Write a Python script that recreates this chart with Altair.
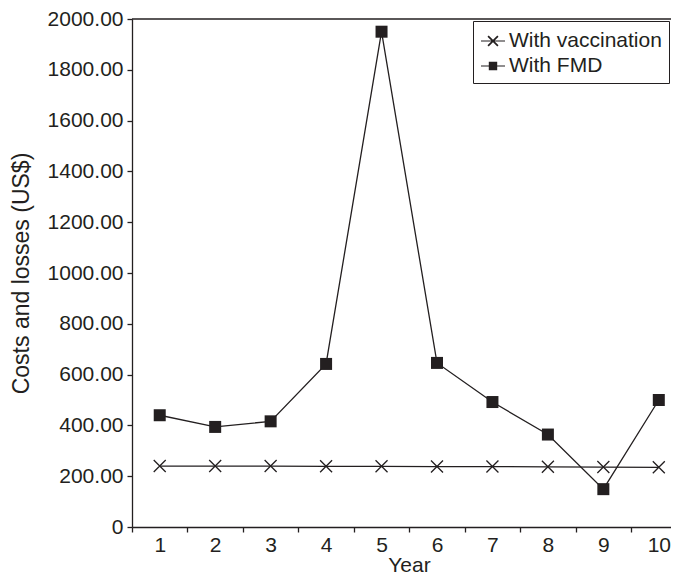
import altair as alt
import pandas as pd

# ---- data ----
years = [1, 2, 3, 4, 5, 6, 7, 8, 9, 10]
vaccination = [240, 240, 240, 239, 239, 238, 238, 237, 236, 235]
fmd = [440, 394, 416, 642, 1950, 646, 492, 364, 149, 500]
series_names = ["With vaccination", "With FMD"]
y_ticks = [0, 200, 400, 600, 800, 1000, 1200, 1400, 1600, 1800, 2000]
x_tick_values = [0.5, 1, 1.5, 2, 2.5, 3, 3.5, 4, 4.5, 5, 5.5, 6, 6.5, 7, 7.5,
                 8, 8.5, 9, 9.5, 10]

df = pd.DataFrame({
    "year": years + years,
    "value": vaccination + fmd,
    "series": [series_names[0]] * len(years) + [series_names[1]] * len(years),
})
top_df = pd.DataFrame({"value": [y_ticks[-1]]})

INK = "#231f20"
FONT = "Liberation Sans"
X_PATH = "M-1,-1L1,1M-1,1L1,-1"
# legend symbols drawn as filled outlines (line segment + marker)
LEG_X = ("M-1,-0.05L1,-0.05L1,0.05L-1,0.05Z"
         "M-0.36,-0.46L0.46,0.36L0.36,0.46L-0.46,-0.36Z"
         "M-0.36,0.46L-0.46,0.36L0.36,-0.46L0.46,-0.36Z")
LEG_SQ = ("M-1,-0.05L1,-0.05L1,0.05L-1,0.05Z"
          "M-0.35,-0.35L0.35,-0.35L0.35,0.35L-0.35,0.35Z")

x_scale = alt.Scale(domain=[0.5, 10.22], nice=False, zero=False)
y_scale = alt.Scale(domain=[0, 2000], nice=False, zero=True)

x_axis = alt.Axis(
    orient="bottom",
    values=x_tick_values,
    labelExpr="datum.value % 1 === 0 ? format(datum.value, 'd') : ''",
    tickOpacity={"condition": {"test": "datum.value % 1 === 0", "value": 0}, "value": 1},
    labelOverlap=False,
    labelFlush=False,
    labelPadding=2,
    title="Year",
    titleBaseline="alphabetic",
    titleY=44,
    titleX=277,
)
y_axis = alt.Axis(
    orient="left",
    values=y_ticks,
    labelExpr="datum.value === 0 ? '0' : format(datum.value, '.2f')",
    labelOverlap=False,
    labelPadding=4,
    title="Costs and losses (US$)",
    titlePadding=14,
    titleFontSize=23,
)

X = alt.X("year:Q", scale=x_scale, axis=x_axis)
Y = alt.Y("value:Q", scale=y_scale, axis=y_axis)

base = alt.Chart(df)

lines = base.mark_line(color=INK, strokeWidth=1.3).encode(
    x=X, y=Y, detail="series:N",
)

top_rule = alt.Chart(top_df).mark_rule(color=INK, strokeWidth=1.3).encode(y=Y)

vacc_pts = base.transform_filter(alt.datum.series == series_names[0]).mark_point(
    shape=X_PATH, filled=False, stroke=INK, strokeWidth=1.3, size=144, opacity=1
).encode(x=X, y=Y)

fmd_pts = base.transform_filter(alt.datum.series == series_names[1]).mark_point(
    shape="square", filled=True, fill=INK, size=144, opacity=1
).encode(x=X, y=Y)

legend_layer = base.transform_filter("datum.year < 0").mark_point(
    filled=True, fill=INK, opacity=1
).encode(
    x=X, y=Y,
    shape=alt.Shape("series:N",
                    scale=alt.Scale(domain=series_names, range=[LEG_X, LEG_SQ]),
                    legend=alt.Legend(
                        orient="none", legendX=341, legendY=2, title=None,
                        strokeColor=INK, fillColor="white", padding=7,
                        labelFont=FONT, labelFontSize=21, labelColor=INK,
                        labelOffset=3, symbolSize=576,
                        symbolFillColor=INK, symbolOpacity=1, rowPadding=2,
                    )),
)

chart = alt.layer(lines, top_rule, vacc_pts, fmd_pts, legend_layer).properties(
    width=539,
    height=508,
    autosize=alt.AutoSizeParams(type="none"),
    padding={"left": 124, "top": 11, "right": 0, "bottom": 49},
).configure_view(stroke=None).configure_axis(
    grid=False,
    domainColor=INK,
    domainWidth=1.3,
    tickColor=INK,
    tickWidth=1.3,
    tickSize=5,
    labelFont=FONT,
    labelFontSize=21,
    labelColor=INK,
    titleFont=FONT,
    titleFontSize=21,
    titleFontWeight="normal",
    titleColor=INK,
)

chart.save("out.html", embed_options={"renderer": "svg", "actions": False})
